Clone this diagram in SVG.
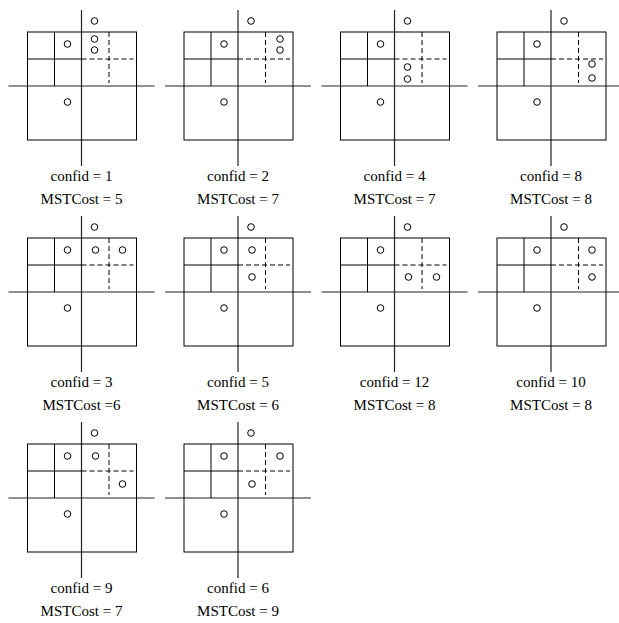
<svg xmlns="http://www.w3.org/2000/svg" width="619" height="623" viewBox="0 0 619 623">
<style>
.ln{stroke:#000;stroke-width:1;fill:none}
.ax{stroke:#222;stroke-width:1.2;fill:none}
.ds{stroke:#000;stroke-width:1;fill:none;stroke-dasharray:5,3}
.pt{stroke:#000;stroke-width:1;fill:#fff}
.lb{font-family:"Liberation Serif","Times New Roman",serif;font-size:15px;fill:#000;text-anchor:middle}
</style>
<defs>
<g id="base">
<line class="ax" x1="0" y1="-76" x2="0" y2="80"/>
<line class="ax" x1="-73" y1="0" x2="73" y2="0"/>
<rect class="ln" x="-54" y="-54" width="109" height="108"/>
<line class="ln" x1="-27" y1="-54" x2="-27" y2="0"/>
<line class="ln" x1="-54" y1="-27" x2="0" y2="-27"/>
<line class="ds" x1="0" y1="-27" x2="52" y2="-27"/>
<line class="ds" x1="27.5" y1="-54" x2="27.5" y2="-3"/>
<circle class="pt" cx="13" cy="-65" r="3.3"/>
<circle class="pt" cx="-14" cy="-42" r="3.3"/>
<circle class="pt" cx="-14" cy="16" r="3.3"/>
</g>
</defs>
<g id="panel-c1" transform="translate(81.5,86)">
<use href="#base"/>
<circle class="pt" cx="13" cy="-47" r="3.3"/><circle class="pt" cx="13" cy="-36" r="3.3"/>
<text class="lb" x="0" y="95">confid = 1</text><text class="lb" x="0" y="118">MSTCost = 5</text>
</g>
<g id="panel-c2" transform="translate(238,86)">
<use href="#base"/>
<circle class="pt" cx="42" cy="-47" r="3.3"/><circle class="pt" cx="42" cy="-36" r="3.3"/>
<text class="lb" x="0" y="95">confid = 2</text><text class="lb" x="0" y="118">MSTCost = 7</text>
</g>
<g id="panel-c4" transform="translate(394.5,86)">
<use href="#base"/>
<circle class="pt" cx="13" cy="-19" r="3.3"/><circle class="pt" cx="13" cy="-7" r="3.3"/>
<text class="lb" x="0" y="95">confid = 4</text><text class="lb" x="0" y="118">MSTCost = 7</text>
</g>
<g id="panel-c8" transform="translate(551,86)">
<use href="#base"/>
<circle class="pt" cx="41" cy="-22" r="3.3"/><circle class="pt" cx="41" cy="-8" r="3.3"/>
<text class="lb" x="0" y="95">confid = 8</text><text class="lb" x="0" y="118">MSTCost = 8</text>
</g>
<g id="panel-c3" transform="translate(81.5,292)">
<use href="#base"/>
<circle class="pt" cx="14" cy="-42" r="3.3"/><circle class="pt" cx="41" cy="-42" r="3.3"/>
<text class="lb" x="0" y="95">confid = 3</text><text class="lb" x="0" y="118">MSTCost =6</text>
</g>
<g id="panel-c5" transform="translate(238,292)">
<use href="#base"/>
<circle class="pt" cx="14" cy="-42" r="3.3"/><circle class="pt" cx="14" cy="-15" r="3.3"/>
<text class="lb" x="0" y="95">confid = 5</text><text class="lb" x="0" y="118">MSTCost = 6</text>
</g>
<g id="panel-c12" transform="translate(394.5,292)">
<use href="#base"/>
<circle class="pt" cx="14" cy="-15" r="3.3"/><circle class="pt" cx="42" cy="-15" r="3.3"/>
<text class="lb" x="0" y="95">confid = 12</text><text class="lb" x="0" y="118">MSTCost = 8</text>
</g>
<g id="panel-c10" transform="translate(551,292)">
<use href="#base"/>
<circle class="pt" cx="41" cy="-42" r="3.3"/><circle class="pt" cx="41" cy="-15" r="3.3"/>
<text class="lb" x="0" y="95">confid = 10</text><text class="lb" x="0" y="118">MSTCost = 8</text>
</g>
<g id="panel-c9" transform="translate(81.5,498)">
<use href="#base"/>
<circle class="pt" cx="14" cy="-42" r="3.3"/><circle class="pt" cx="41" cy="-14" r="3.3"/>
<text class="lb" x="0" y="95">confid = 9</text><text class="lb" x="0" y="118">MSTCost = 7</text>
</g>
<g id="panel-c6" transform="translate(238,498)">
<use href="#base"/>
<circle class="pt" cx="42" cy="-42" r="3.3"/><circle class="pt" cx="14" cy="-14" r="3.3"/>
<text class="lb" x="0" y="95">confid = 6</text><text class="lb" x="0" y="118">MSTCost = 9</text>
</g>
<g id="connectors"/>
</svg>
